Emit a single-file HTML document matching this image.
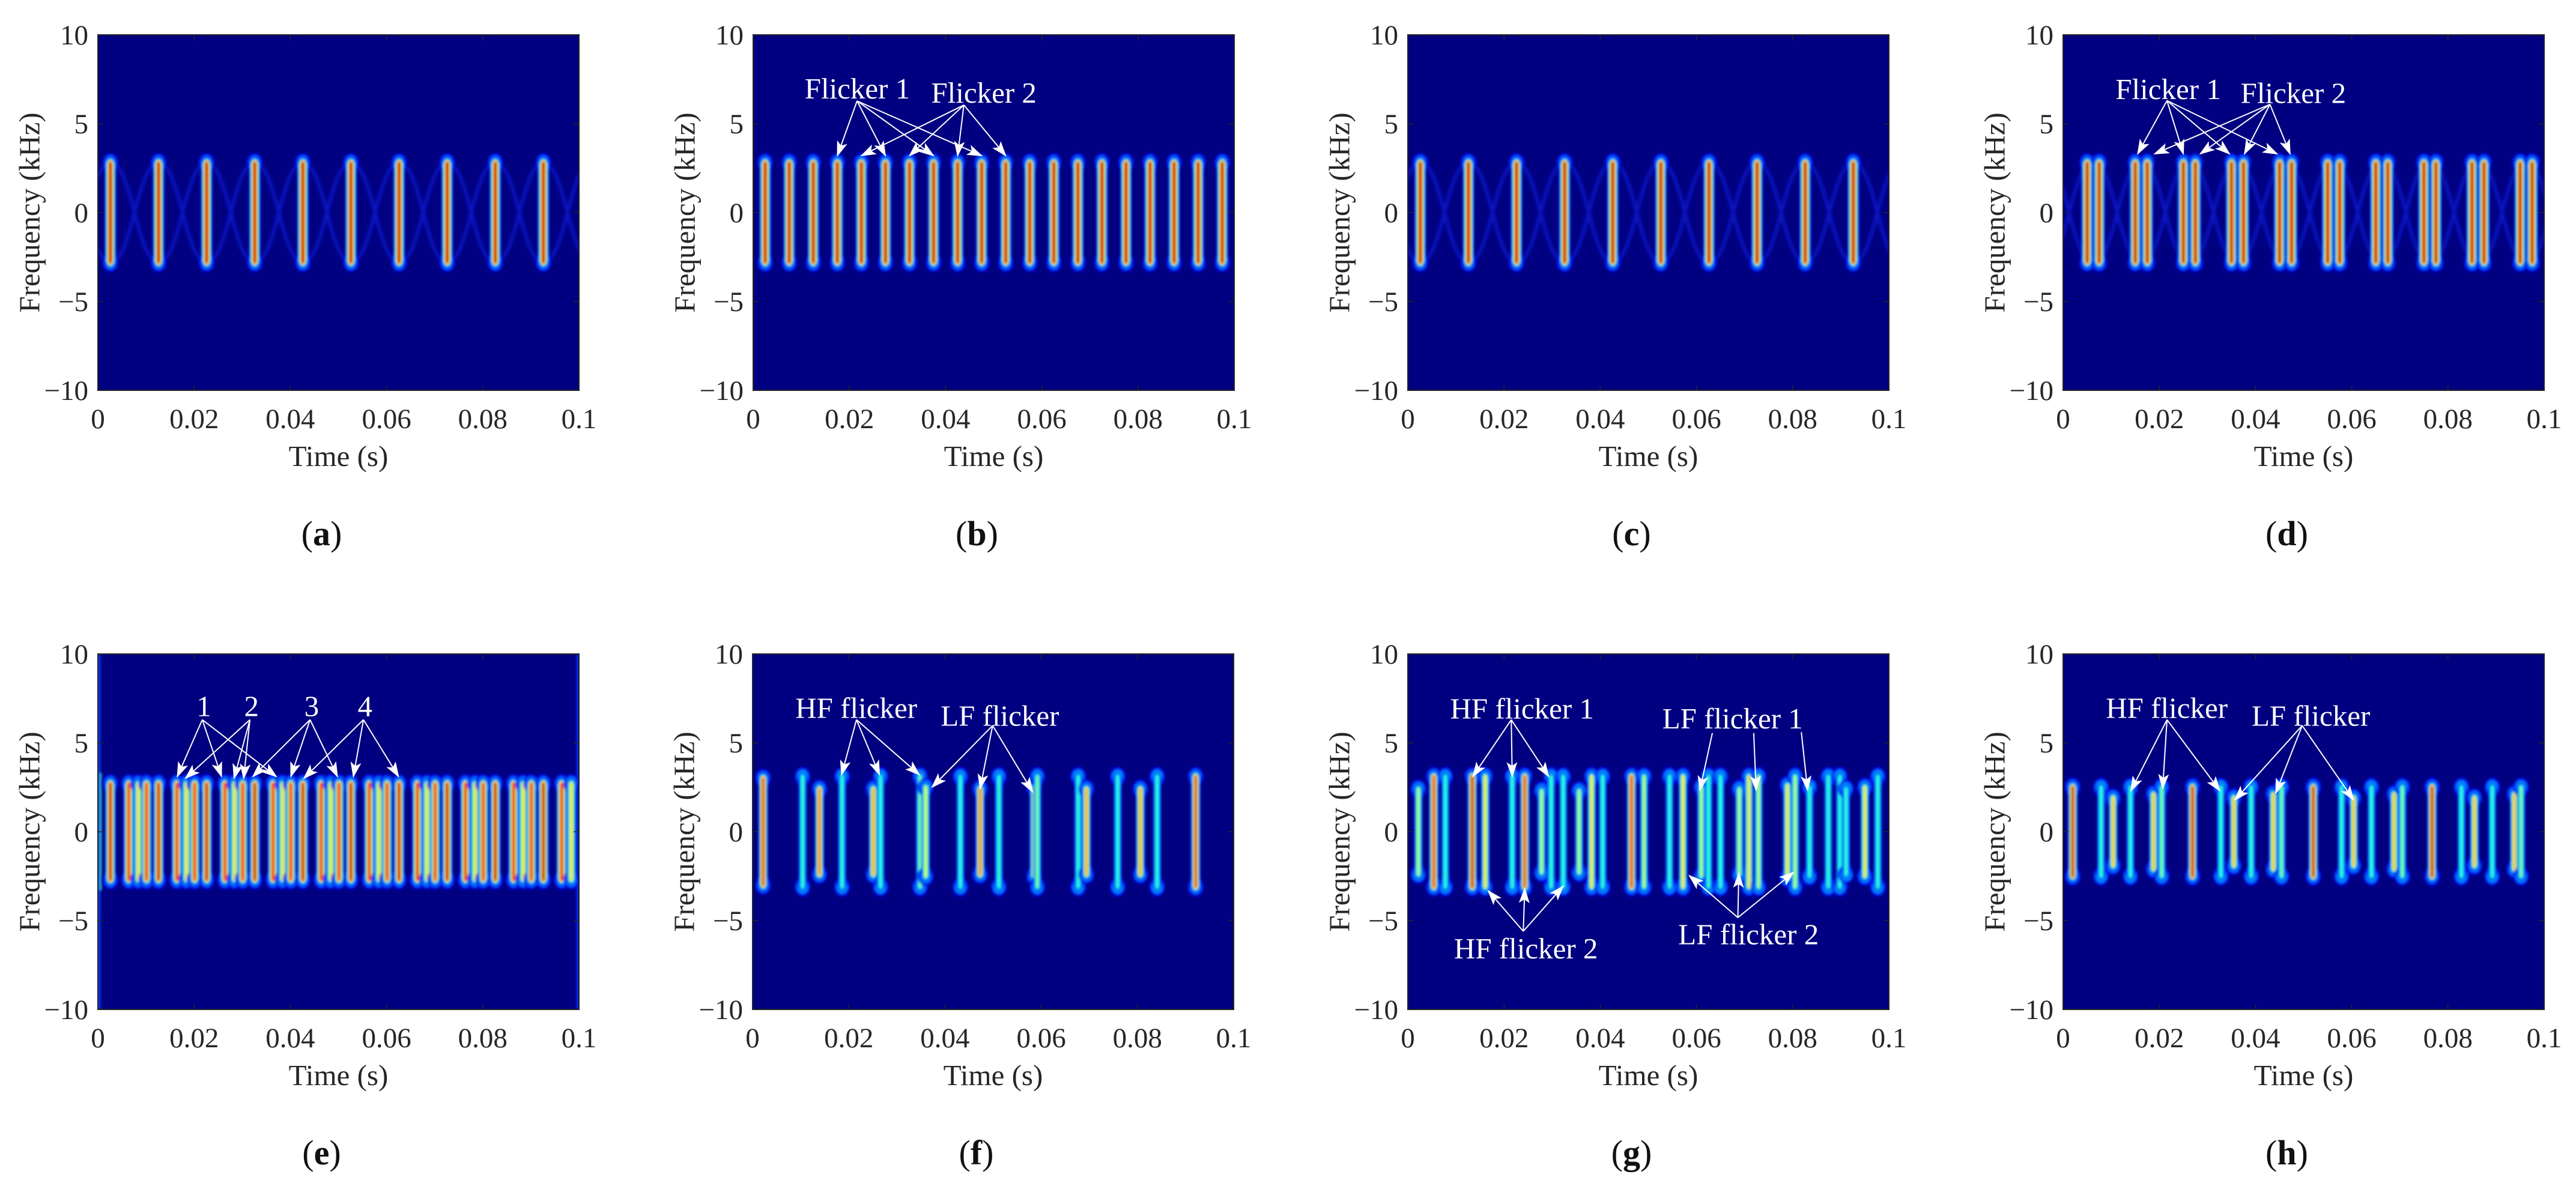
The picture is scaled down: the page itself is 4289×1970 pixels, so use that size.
<!DOCTYPE html>
<html><head><meta charset="utf-8">
<style>
html,body{margin:0;padding:0;background:#fff;}
svg{display:block;}
text{font-family:"Liberation Serif","Times New Roman",serif;}
</style></head>
<body>
<svg id="fig" xmlns="http://www.w3.org/2000/svg" width="4289" height="1970" viewBox="0 0 4289 1970">
<defs>
<filter id="blur" x="-50%" y="-10%" width="200%" height="120%"><feGaussianBlur stdDeviation="2.2"/></filter>
<filter id="blur2" x="-20%" y="-20%" width="140%" height="140%"><feGaussianBlur stdDeviation="3"/></filter>
<marker id="arr" markerUnits="userSpaceOnUse" markerWidth="26" markerHeight="18" refX="24" refY="9" orient="auto"><path d="M0,0 L26,9 L0,18 L6,9 Z" fill="#fff"/></marker>
</defs>
</svg>
<script>
// ---------------- data ----------------
const xTicks = [0, 0.02, 0.04, 0.06, 0.08, 0.1];
const xTickLabels = ["0", "0.02", "0.04", "0.06", "0.08", "0.1"];
const yTicks = [10, 5, 0, -5, -10];
const yTickLabels = ["10", "5", "0", "\u22125", "\u221210"];

const aTimes = [0.0026,0.0126,0.0226,0.0326,0.0426,0.0526,0.0626,0.0726,0.0826,0.0926];
const aHalf  = [2.8,2.8,2.8,2.8,2.8,2.8,2.8,2.8,2.8,2.8];
const aPeak  = [1,1,1,1,1,1,1,1,1,1];

const bTimes = [0.0025,0.0075,0.0125,0.0175,0.0225,0.0275,0.0325,0.0375,0.0425,0.0475,0.0525,0.0575,0.0625,0.0675,0.0725,0.0775,0.0825,0.0875,0.0925,0.0975];
const bHalf  = [2.8,2.8,2.8,2.8,2.8,2.8,2.8,2.8,2.8,2.8,2.8,2.8,2.8,2.8,2.8,2.8,2.8,2.8,2.8,2.8];
const bPeak  = [1,1,1,1,1,1,1,1,1,1,1,1,1,1,1,1,1,1,1,1];

const cTimes = [0.0026,0.0126,0.0226,0.0326,0.0426,0.0526,0.0626,0.0726,0.0826,0.0926];
const cHalf  = [2.8,2.8,2.8,2.8,2.8,2.8,2.8,2.8,2.8,2.8];
const cPeak  = [1,1,1,1,1,1,1,1,1,1];

const dTimes = [0.005,0.0075,0.015,0.0175,0.025,0.0275,0.035,0.0375,0.045,0.0475,0.055,0.0575,0.065,0.0675,0.075,0.0775,0.085,0.0875,0.095,0.0975];
const dHalf  = [2.8,2.8,2.8,2.8,2.8,2.8,2.8,2.8,2.8,2.8,2.8,2.8,2.8,2.8,2.8,2.8,2.8,2.8,2.8,2.8];
const dPeak  = [1,1,1,1,1,1,1,1,1,1,1,1,1,1,1,1,1,1,1,1];

const eTimes = [0.0026,0.0064,0.0084,0.0101,0.0126,0.0164,0.0184,0.0201,0.0226,0.0264,0.0284,0.0301,
  0.0326,0.0364,0.0384,0.0401,0.0426,0.0464,0.0484,0.0501,0.0526,0.0564,0.0584,0.0601,
  0.0626,0.0664,0.0684,0.0701,0.0726,0.0764,0.0784,0.0801,0.0826,0.0864,0.0884,0.0901,
  0.0926,0.0964,0.0984];
const eHalf = [2.7,2.7,2.7,2.7,2.7,2.7,2.7,2.7,2.7,2.7,2.7,2.7,2.7,2.7,2.7,2.7,2.7,2.7,2.7,2.7,
  2.7,2.7,2.7,2.7,2.7,2.7,2.7,2.7,2.7,2.7,2.7,2.7,2.7,2.7,2.7,2.7,2.7,2.7,2.7];
const ePeak = [1,0.95,0.7,0.95,1,0.95,0.7,0.95,1,0.95,0.7,0.95,1,0.95,0.7,0.95,1,0.95,0.7,0.95,
  1,0.95,0.7,0.95,1,0.95,0.7,0.95,1,0.95,0.7,0.95,1,0.95,0.7,0.95,1,0.95,0.7];

const fTimes = [0.0022,0.0104,0.0139,0.0186,0.0251,0.0266,0.0348,0.0360,0.0432,0.0473,0.0512,0.0585,0.0592,0.0677,0.0694,0.0759,0.0806,0.0841,0.0921];
const fHalf  = [3.0,3.1,2.4,3.1,2.4,3.1,3.1,2.5,3.1,2.4,3.1,2.5,3.1,3.1,2.4,3.1,2.4,3.1,3.1];
const fPeak  = [0.95,0.5,0.85,0.5,0.8,0.5,0.55,0.65,0.5,0.85,0.5,0.75,0.55,0.5,0.8,0.5,0.8,0.5,0.95];

const gTimes = [0.0022,0.0054,0.0078,0.0134,0.0161,0.0217,0.0243,0.0278,0.0298,0.0323,0.0356,0.0382,0.0405,0.0465,0.0491,0.0544,0.0572,0.0610,0.0625,0.0650,0.0689,0.0709,0.0729,0.0789,0.0805,0.0835,0.0874,0.0898,0.0911,0.0950,0.0977];
const gHalf  = [2.4,3.1,3.1,3.1,3.1,3.1,3.1,2.3,3.1,3.1,2.3,3.1,3.1,3.1,3.1,3.1,3.1,2.5,3.1,3.1,2.4,3.1,3.1,2.6,3.1,2.5,3.1,3.1,2.4,2.5,3.1];
const gPeak  = [0.6,0.95,0.5,1.0,0.7,0.5,0.95,0.6,0.5,0.5,0.6,0.7,0.5,0.95,0.6,0.5,0.7,0.6,0.5,0.5,0.6,0.7,0.6,0.7,0.6,0.5,0.5,0.5,0.5,0.7,0.5];

const hTimes = [0.0020,0.0079,0.0104,0.0140,0.0188,0.0205,0.0269,0.0328,0.0355,0.0391,0.0437,0.0454,0.0520,0.0579,0.0604,0.0641,0.0688,0.0705,0.0767,0.0828,0.0855,0.0892,0.0938,0.0952];
const hHalf  = [2.5,2.5,1.9,2.5,2.1,2.5,2.5,2.5,1.9,2.5,2.1,2.5,2.5,2.5,1.9,2.5,2.1,2.5,2.5,2.5,1.9,2.5,2.1,2.5];
const hPeak  = [1.0,0.5,0.75,0.5,0.75,0.55,1.0,0.5,0.75,0.5,0.75,0.55,1.0,0.5,0.75,0.5,0.75,0.55,1.0,0.5,0.75,0.5,0.75,0.55];

// ---------------- layout ----------------
const W = 801, H = 592;
const panels = [
 {id:'a', left:163,  top:58,   times:aTimes, half:aHalf, peak:aPeak, sig:4.5, arcs:true, ann:[]},
 {id:'b', left:1254, top:58,   times:bTimes, half:bHalf, peak:bPeak, sig:4.5, arcs:false, ann:[
   {label:'Flicker 1', lt:0.0107, lf:6.42, ot:0.0216, of:6.28, targets:[[0.0175,3.2],[0.0275,3.2],[0.0375,3.2],[0.0475,3.2]]},
   {label:'Flicker 2', lt:0.037, lf:6.18, ot:0.0438, of:6.05, targets:[[0.0225,3.2],[0.0325,3.2],[0.0425,3.2],[0.0525,3.2]]}]},
 {id:'c', left:2344, top:58,   times:cTimes, half:cHalf, peak:cPeak, sig:4.5, arcs:true, ann:[]},
 {id:'d', left:3435, top:58,   times:dTimes, half:dHalf, peak:dPeak, sig:4.5, arcs:true, pairArcs:true, ann:[
   {label:'Flicker 1', lt:0.0109, lf:6.38, ot:0.0216, of:6.3, targets:[[0.0155,3.3],[0.025,3.3],[0.0346,3.3],[0.0445,3.3]]},
   {label:'Flicker 2', lt:0.0369, lf:6.17, ot:0.043, of:6.09, targets:[[0.019,3.3],[0.0285,3.3],[0.0377,3.3],[0.0472,3.3]]}]},
 {id:'e', left:163,  top:1089, times:eTimes, half:eHalf, peak:ePeak, sig:4.2, arcs:false, edges:true, ann:[
   {label:'1', lt:0.0205, lf:6.5, ot:0.0217, of:6.3, targets:[[0.0165,3.1],[0.0257,3.1],[0.0371,3.1]]},
   {label:'2', lt:0.0304, lf:6.5, ot:0.0316, of:6.3, targets:[[0.0182,3.0],[0.0283,3.0],[0.0303,3.0]]},
   {label:'3', lt:0.0429, lf:6.5, ot:0.0441, of:6.3, targets:[[0.0322,3.1],[0.0401,3.1],[0.0498,3.1]]},
   {label:'4', lt:0.054, lf:6.5, ot:0.0552, of:6.3, targets:[[0.0428,3.0],[0.0531,3.1],[0.0625,3.1]]}]},
 {id:'f', left:1253, top:1089, times:fTimes, half:fHalf, peak:fPeak, sig:3.8, arcs:false, ann:[
   {label:'HF flicker', lt:0.0089, lf:6.4, ot:0.0216, of:6.3, targets:[[0.0185,3.2],[0.0264,3.2],[0.0347,3.2]]},
   {label:'LF flicker', lt:0.0391, lf:5.97, ot:0.0499, of:5.97, targets:[[0.0373,2.5],[0.0473,2.43],[0.0582,2.24]]}]},
 {id:'g', left:2344, top:1089, times:gTimes, half:gHalf, peak:gPeak, sig:3.8, arcs:false, ann:[
   {label:'HF flicker 1', lt:0.0088, lf:6.36, ot:0.0215, of:6.3, targets:[[0.0135,3.1],[0.0217,3.1],[0.0293,3.1]]},
   {label:'LF flicker 1', lt:0.0529, lf:5.81, multi:[[0.0633,5.55],[0.0719,5.55],[0.0818,5.6]], targets:[[0.0607,2.33],[0.0724,2.33],[0.0831,2.33]]},
   {label:'HF flicker 2', lt:0.0096, lf:-7.12, ot:0.024, of:-5.6, targets:[[0.0167,-3.32],[0.0243,-3.2],[0.0323,-3.06]]},
   {label:'LF flicker 2', lt:0.0562, lf:-6.33, ot:0.0686, of:-4.83, targets:[[0.0585,-2.47],[0.0688,-2.34],[0.0802,-2.28]]}]},
 {id:'h', left:3435, top:1089, times:hTimes, half:hHalf, peak:hPeak, sig:3.8, arcs:false, ann:[
   {label:'HF flicker', lt:0.0089, lf:6.4, ot:0.0216, of:6.3, targets:[[0.0141,2.3],[0.0207,2.43],[0.0326,2.3]]},
   {label:'LF flicker', lt:0.0392, lf:5.97, ot:0.0497, of:5.97, targets:[[0.0357,1.78],[0.0442,2.17],[0.0604,1.78]]}]}
];

// ---------------- helpers ----------------
const NS = 'http://www.w3.org/2000/svg';
const svg = document.getElementById('fig');
function mk(tag, attrs, parent){ const e=document.createElementNS(NS,tag); for(const k in attrs) e.setAttribute(k,attrs[k]); (parent||svg).appendChild(e); return e; }
function clamp(v){return Math.max(0,Math.min(1,v));}
function jet(v){
  const r=clamp(1.5-Math.abs(4*v-3)), g=clamp(1.5-Math.abs(4*v-2)), b=clamp(1.5-Math.abs(4*v-1));
  return 'rgb('+Math.round(r*255)+','+Math.round(g*255)+','+Math.round(b*255)+')';
}

panels.forEach(p=>{
  const xs = t => p.left + t/0.1*W;
  const ys = f => p.top + (10-f)/20*H;
  const g = mk('g',{});
  
  

  const clipId='clip'+p.id;
  const cp = mk('clipPath',{id:clipId},g);
  mk('rect',{x:p.left,y:p.top,width:W,height:H},cp);

  const bg = mk('rect',{x:p.left,y:p.top,width:W,height:H,fill:'#000080'},g);
  
  

  const plot = mk('g',{'clip-path':'url(#'+clipId+')'},g);

  if(p.arcs){
    const ag = mk('g',{filter:'url(#blur2)',stroke:'#0a1ed8','stroke-width':6,fill:'none',opacity:0.75},plot);
    let centers = [];
    if(p.pairArcs){ for(let i=0;i<p.times.length;i+=2) centers.push((p.times[i]+p.times[i+1])/2); }
    else centers = p.times.slice();
    const per = centers[1]-centers[0];
    const ext=[centers[0]-per].concat(centers,[centers[centers.length-1]+per]);
    for(let i=0;i<ext.length-1;i++){
      const t0=ext[i], t1=ext[i+1], hh=2.8;
      [[hh,-hh],[-hh,hh]].forEach(([f0,f1])=>{
        const x0=xs(t0),x1=xs(t1),y0=ys(f0),y1=ys(f1);
        const dx=(x1-x0)*0.45;
        mk('path',{d:`M${x0},${y0} C${x0+dx},${y0} ${x1-dx},${y1} ${x1},${y1}`},ag);
      });
    }
  }
  if(p.edges){
    const eg = mk('g',{filter:'url(#blur)'},plot);
    mk('rect',{x:p.left-3,y:ys(3.3),width:9,height:ys(-3.3)-ys(3.3),fill:'#40ffb0'},eg);
    mk('rect',{x:p.left-6,y:ys(10),width:10,height:H,fill:'#0040ff'},eg);
    mk('rect',{x:p.left+W-4,y:ys(3.3),width:9,height:ys(-3.3)-ys(3.3),fill:'#20d0ff'},eg);
    mk('rect',{x:p.left+W-4,y:ys(10),width:10,height:H,fill:'#0030ff'},eg);
  }

  const bgp = mk('g',{filter:'url(#blur)'},plot);
  p.times.forEach((t,i)=>{
    const pk = p.peak[i], hf = p.half[i];
    const bar = mk('g',{},bgp);
    
    
    const cx = xs(t), yT = ys(hf), yB = ys(-hf);
    const sig=p.sig, sigF=7;
    for(let l=0.1;l<0.55 && l<pk;l+=0.09){
      const r = 8*Math.sqrt(2*Math.log(0.55/l));
      [yT,yB].forEach(yy=> mk('ellipse',{cx:cx,cy:yy,rx:r*0.9,ry:r*1.1,fill:jet(l)},bar));
    }
    for(let l=0.1;l<pk;l+=0.08){
      const s=Math.sqrt(2*Math.log(pk/l));
      const dx=Math.max(sig*s,0.8), ext=sigF*s*0.6;
      mk('rect',{x:cx-dx,y:yT-ext,width:2*dx,height:(yB-yT)+2*ext,rx:dx,ry:Math.min(dx*1.5,ext+dx),fill:jet(l)},bar);
    }
  });

  const box = mk('rect',{x:p.left,y:p.top,width:W,height:H,fill:'none',stroke:'#262626','stroke-width':2},g);
  
  

  xTicks.forEach((v,i)=>{
    const x=xs(v);
    mk('line',{x1:x,y1:p.top+H,x2:x,y2:p.top+H-9,stroke:'#262626','stroke-width':1.5},g);
    mk('line',{x1:x,y1:p.top,x2:x,y2:p.top+9,stroke:'#262626','stroke-width':1.5},g);
    const tx = mk('text',{x:x,y:p.top+H+63,'font-size':47,'text-anchor':'middle',fill:'#262626'},g);
    tx.textContent = xTickLabels[i];
    
    
  });
  yTicks.forEach((v,i)=>{
    const y=ys(v);
    mk('line',{x1:p.left,y1:y,x2:p.left+9,y2:y,stroke:'#262626','stroke-width':1.5},g);
    mk('line',{x1:p.left+W,y1:y,x2:p.left+W-9,y2:y,stroke:'#262626','stroke-width':1.5},g);
    const ty = mk('text',{x:p.left-16,y:y+16,'font-size':47,'text-anchor':'end',fill:'#262626'},g);
    ty.textContent = yTickLabels[i];
    
    
  });
  const xl = mk('text',{x:p.left+W/2,y:p.top+H+126,'font-size':49,'text-anchor':'middle',fill:'#262626'},g);
  xl.textContent='Time (s)';
  
  
  const yx=p.left-114, yy=p.top+H/2;
  const yl = mk('text',{x:yx,y:yy,'font-size':49,'text-anchor':'middle',fill:'#262626',transform:`rotate(-90 ${yx} ${yy})`,'dominant-baseline':'central'},g);
  yl.textContent='Frequency (kHz)';
  
  
  const cap = mk('text',{x:p.left+W/2-28,y:p.top+H+258,'font-size':58,'text-anchor':'middle',fill:'#111'},g);
  cap.innerHTML = '(<tspan font-weight="bold">'+p.id+'</tspan>)';
  
  

  p.ann.forEach(a=>{
    const ag = mk('g',{},g);
    
    
    const tt = mk('text',{x:xs(a.lt),y:ys(a.lf),'font-size':49,fill:'#fff'},ag);
    tt.textContent=a.label;
    
    
    a.targets.forEach((tg,k)=>{
      const o = a.multi ? a.multi[k] : [a.ot,a.of];
      const ln = mk('line',{x1:xs(o[0]),y1:ys(o[1]),x2:xs(tg[0]),y2:ys(tg[1]),stroke:'#fff','stroke-width':2,'marker-end':'url(#arr)'},ag);
      
      
    });
  });
});
</script>
</body></html>
